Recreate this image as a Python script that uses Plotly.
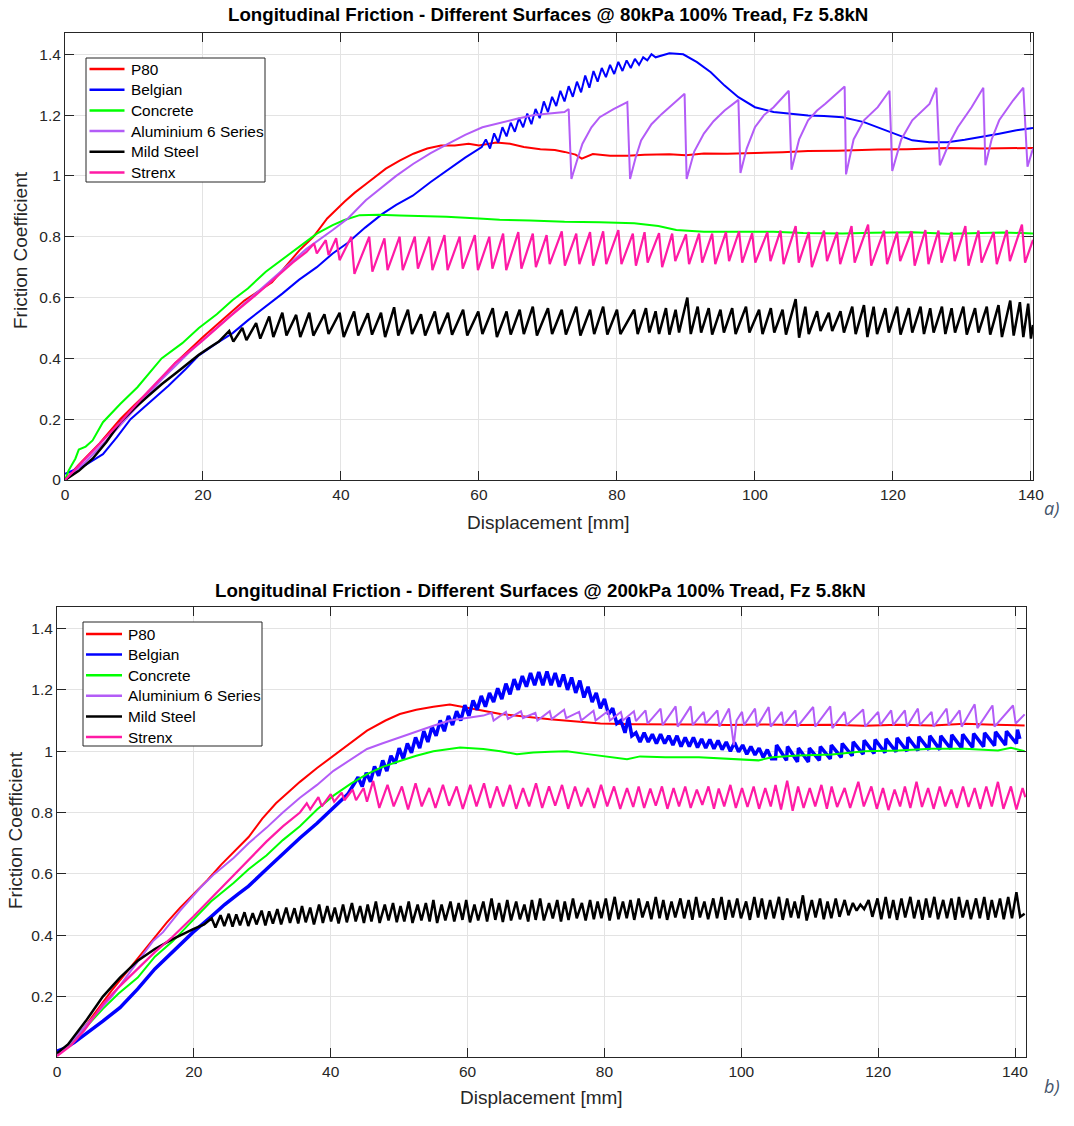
import plotly.graph_objects as go

# ---------------------------------------------------------------
# a) 80 kPa
# ---------------------------------------------------------------
a_p80_x = [0, 2, 5, 8, 10, 13, 16, 20, 23, 26, 30, 34, 36, 38, 40.5, 42, 44, 46.5, 48.5, 50.5,
           52.5, 54.5, 56.5, 58.5, 60, 62.5, 64.5, 66.5, 68.9, 71, 72.4, 74, 74.9, 76.5, 79,
           81.5, 84, 87.6, 90, 92.6, 96, 100, 104, 107.7, 112, 117.8, 122, 127.9, 133, 140.3]
a_p80_y = [0, 0.05, 0.12, 0.2, 0.245, 0.31, 0.385, 0.47, 0.53, 0.59, 0.65, 0.756, 0.80, 0.86, 0.915,
           0.945, 0.98, 1.024, 1.05, 1.073, 1.09, 1.10, 1.10, 1.106, 1.10, 1.11, 1.106, 1.095, 1.088,
           1.085, 1.079, 1.07, 1.057, 1.072, 1.066, 1.066, 1.07, 1.071, 1.068, 1.074, 1.073, 1.075,
           1.078, 1.082, 1.083, 1.087, 1.088, 1.092, 1.09, 1.092]

a_belgian_x = [0, 1.5, 3, 5.5, 7.5, 9.5, 12, 15, 17.5, 19.4, 22, 24.3, 26.5, 29.1, 31.5, 33.9, 36.5,
               38.8, 41, 43.5, 46, 48, 50.4, 53, 55.5, 58, 60.4,
               61.0, 61.6, 62.2, 62.8, 63.4, 64.0, 64.6, 65.2, 65.8, 66.4, 67.0, 67.6, 68.2, 68.8,
               69.4, 70.0, 70.6, 71.2, 71.8, 72.4, 73.0, 73.6, 74.2, 74.8, 75.4, 76.0, 76.6, 77.2,
               77.8, 78.4, 79.0, 79.6, 80.2, 80.8, 81.4, 82.0, 82.6, 83.2, 83.8, 84.4, 85.0, 85.6,
               87.6, 89.6, 91.6, 93.6, 95.6, 97.6, 100, 102.7, 105, 107.7, 110, 112.7, 115.8, 117.8,
               120.3, 122.8, 125.3, 127.9, 130.4, 132.9, 135.4, 137.9, 140.3]
a_belgian_y = [0.02, 0.035, 0.05, 0.085, 0.14, 0.2, 0.25, 0.31, 0.365, 0.41, 0.45, 0.483, 0.525,
               0.57, 0.613, 0.658, 0.70, 0.745, 0.78, 0.83, 0.875, 0.905, 0.935, 0.98, 1.02, 1.06,
               1.095,
               1.12, 1.09, 1.14, 1.11, 1.16, 1.13, 1.175, 1.145, 1.19, 1.16, 1.205, 1.17, 1.22, 1.19,
               1.245, 1.21, 1.26, 1.23, 1.28, 1.245, 1.295, 1.26, 1.31, 1.275, 1.33, 1.29, 1.345,
               1.31, 1.355, 1.325, 1.365, 1.335, 1.375, 1.345, 1.38, 1.355, 1.385, 1.365, 1.39,
               1.38, 1.40, 1.39,
               1.403, 1.40, 1.374, 1.341, 1.297, 1.259, 1.226, 1.21, 1.205, 1.199, 1.197, 1.193,
               1.177, 1.16, 1.139, 1.117, 1.111, 1.111, 1.119, 1.128, 1.139, 1.15, 1.158]

a_concrete_x = [0, 0.5, 1, 1.5, 2, 3, 4, 5.5, 8, 10.5, 14, 17, 19.4, 22, 24.3, 26.5, 29.1, 31.5,
                33.9, 36.5, 38.8, 40.5, 42.7, 45.5, 48.5, 52, 55.3, 60, 63, 67.4, 72.4, 77.5, 82.5,
                86, 88.6, 92.6, 97, 102.7, 107, 112.7, 117, 122.8, 128, 132.9, 136, 140.3]
a_concrete_y = [0, 0.03, 0.05, 0.07, 0.1, 0.11, 0.13, 0.19, 0.25, 0.305, 0.4, 0.45, 0.5, 0.545,
                0.592, 0.63, 0.685, 0.725, 0.767, 0.81, 0.838, 0.855, 0.871, 0.872, 0.87, 0.868,
                0.866, 0.86, 0.856, 0.853, 0.849, 0.848, 0.844, 0.835, 0.822, 0.816, 0.815, 0.816,
                0.812, 0.811, 0.813, 0.815, 0.81, 0.811, 0.814, 0.811]

a_alu_x = [0, 3, 6, 10, 14, 18, 22, 26, 29, 32, 35, 38.8, 41, 43.6, 45.5, 48, 50.5, 53, 55.5, 58,
           60.5, 63, 65.5, 68, 70.4, 72.4, 73.0,
           73.4, 74.2, 75.0, 76.3, 77.5, 79.5, 81.5, 81.9, 82.7, 83.5, 85.0, 86.5, 88.0, 89.8,
           90.1, 91.2, 92.6, 94.0, 95.6, 97.6, 97.9, 98.8, 100.0, 101.3, 102.7, 104.9, 105.3,
           106.4, 107.7, 109.0, 110.2, 113.0, 113.2, 114.3, 115.8, 117.8, 119.5, 119.9, 121.2,
           122.8, 125.3, 126.3, 126.8, 128.0, 129.4, 131.4, 133.1, 133.4, 134.3, 135.4, 137.4,
           138.9, 139.5, 140.3]
a_alu_y = [0, 0.06, 0.13, 0.23, 0.33, 0.42, 0.5, 0.58, 0.64, 0.70, 0.76, 0.822, 0.86, 0.92, 0.955,
           1.0, 1.04, 1.075, 1.105, 1.135, 1.16, 1.175, 1.188, 1.2, 1.205, 1.21, 1.22,
           0.99, 1.05, 1.106, 1.16, 1.193, 1.22, 1.243, 0.99, 1.06, 1.117, 1.17, 1.204, 1.235,
           1.27, 0.99, 1.08, 1.139, 1.18, 1.215, 1.25, 1.01, 1.09, 1.16, 1.2, 1.226, 1.28, 1.02,
           1.12, 1.183, 1.215, 1.237, 1.294, 1.005, 1.12, 1.183, 1.226, 1.28, 1.016, 1.12, 1.183,
           1.237, 1.29, 1.035, 1.1, 1.16, 1.226, 1.29, 1.035, 1.12, 1.183, 1.248, 1.29, 1.03,
           1.09]

# mild steel: loading ramp, then stick-slip peaks / troughs
a_steel_ramp_x = [0, 2, 4, 6, 8, 10, 12, 14, 16, 18, 19.4, 20.9, 22.3]
a_steel_ramp_y = [0, 0.03, 0.07, 0.125, 0.19, 0.235, 0.275, 0.315, 0.35, 0.385, 0.412, 0.435, 0.455]
a_steel_peak_x = [23.8, 25.7, 27.7, 29.6, 31.5, 33.5, 35.4, 37.6, 39.8, 41.9,
                  43.9, 45.8, 47.7, 49.7, 51.6, 53.6, 55.5, 57.7, 59.9, 62.0,
                  64.0, 65.9, 67.8, 70.0, 72.0, 74.1, 76.1, 78.0, 80.0,
                  82.5, 84.2, 85.6, 87.1, 88.5, 90.2, 91.7, 93.3, 95.0, 96.7,
                  98.7, 100.6, 102.3, 104.0, 105.9, 107.3, 109.0, 110.7, 112.4, 114.1,
                  115.8, 117.2, 118.9, 120.6, 122.3, 124.0, 125.4, 127.1, 128.5, 130.2,
                  131.9, 133.6, 135.3, 137.0, 138.4, 139.6]
a_steel_peak_y = [0.49, 0.50, 0.516, 0.538, 0.55, 0.543, 0.55, 0.545, 0.55, 0.554,
                  0.548, 0.55, 0.568, 0.56, 0.545, 0.554, 0.55, 0.56, 0.554, 0.565,
                  0.554, 0.56, 0.57, 0.565, 0.56, 0.57, 0.56, 0.57, 0.56,
                  0.56, 0.565, 0.555, 0.565, 0.56, 0.60, 0.57, 0.565, 0.56, 0.565,
                  0.57, 0.56, 0.565, 0.56, 0.595, 0.57, 0.555, 0.55, 0.555, 0.57,
                  0.575, 0.57, 0.565, 0.57, 0.565, 0.57, 0.565, 0.57, 0.565, 0.57,
                  0.565, 0.57, 0.575, 0.59, 0.585, 0.58]
a_steel_trough_x = [24.4, 26.3, 28.3, 30.2, 32.1, 34.1, 36.0, 38.2, 40.4, 42.5,
                    44.5, 46.4, 48.3, 50.3, 52.2, 54.2, 56.1, 58.3, 60.5, 62.6,
                    64.6, 66.5, 68.4, 70.6, 72.6, 74.7, 76.7, 78.6, 80.5,
                    83.0, 84.7, 86.1, 87.6, 89.0, 90.7, 92.2, 93.8, 95.5, 97.2,
                    99.2, 101.1, 102.8, 104.5, 106.4, 107.8, 109.5, 111.2, 112.9, 114.6,
                    116.3, 117.7, 119.4, 121.1, 122.8, 124.5, 125.9, 127.6, 129.0, 130.7,
                    132.4, 134.1, 135.8, 137.5, 138.9, 140.0]
a_steel_trough_y = [0.455, 0.46, 0.465, 0.47, 0.475, 0.47, 0.475, 0.48, 0.47, 0.475,
                    0.478, 0.47, 0.475, 0.48, 0.475, 0.48, 0.478, 0.475, 0.48, 0.47,
                    0.478, 0.48, 0.475, 0.48, 0.478, 0.475, 0.48, 0.478, 0.48,
                    0.48, 0.485, 0.48, 0.478, 0.485, 0.48, 0.485, 0.478, 0.485, 0.48,
                    0.485, 0.48, 0.485, 0.478, 0.468, 0.48, 0.49, 0.49, 0.485, 0.48,
                    0.47, 0.48, 0.485, 0.478, 0.485, 0.48, 0.485, 0.48, 0.485, 0.478,
                    0.485, 0.478, 0.47, 0.475, 0.47, 0.465]
a_steel_end = (140.3, 0.51)

a_strenx_ramp_x = [0, 3, 8, 12, 16, 20, 24, 28, 31, 33, 35]
a_strenx_ramp_y = [0, 0.07, 0.19, 0.29, 0.385, 0.46, 0.54, 0.615, 0.675, 0.715, 0.75]
a_strenx_peak_x = [36.1, 37.8, 39.3,
                   41.5, 44.1, 46.3, 48.5, 50.7, 52.8, 55.0, 57.2, 59.4, 61.5,
                   63.5, 65.7, 67.8, 69.8, 72.0, 74.1, 76.1, 78.0, 80.2, 82.3,
                   84.0, 86.1, 88.0, 90.0, 91.9, 93.8, 95.8, 97.7, 99.6, 101.8,
                   103.7, 105.9, 107.8, 110.0, 111.9, 114.0, 116.4, 118.7, 120.6, 122.7,
                   124.7, 126.6, 128.5, 130.5, 132.4, 134.6, 136.5, 138.7]
a_strenx_peak_y = [0.778, 0.789, 0.795,
                   0.80, 0.80, 0.795, 0.80, 0.80, 0.80, 0.805, 0.80, 0.805, 0.80,
                   0.81, 0.815, 0.81, 0.805, 0.818, 0.81, 0.815, 0.818, 0.822, 0.81,
                   0.815, 0.812, 0.81, 0.808, 0.81, 0.81, 0.815, 0.818, 0.812, 0.815,
                   0.82, 0.835, 0.815, 0.82, 0.815, 0.835, 0.84, 0.82, 0.815, 0.818,
                   0.822, 0.82, 0.815, 0.835, 0.82, 0.815, 0.822, 0.84]
a_strenx_trough_x = [36.5, 38.2, 39.8,
                     41.95, 44.55, 46.75, 48.95, 51.15, 53.25, 55.45, 57.65, 59.85, 61.95,
                     63.95, 66.15, 68.25, 70.25, 72.45, 74.55, 76.55, 78.45, 80.65, 82.75,
                     84.45, 86.55, 88.45, 90.45, 92.35, 94.25, 96.25, 98.15, 100.05, 102.25,
                     104.15, 106.35, 108.25, 110.45, 112.35, 114.45, 116.85, 119.15, 121.05, 123.15,
                     125.15, 127.05, 128.95, 130.95, 132.85, 135.05, 136.95, 139.15]
a_strenx_trough_y = [0.745, 0.74, 0.723,
                     0.678, 0.685, 0.69, 0.69, 0.695, 0.69, 0.69, 0.695, 0.69, 0.695,
                     0.69, 0.695, 0.70, 0.71, 0.705, 0.71, 0.705, 0.71, 0.71, 0.705,
                     0.715, 0.70, 0.72, 0.71, 0.715, 0.71, 0.72, 0.715, 0.715, 0.72,
                     0.71, 0.715, 0.70, 0.72, 0.71, 0.715, 0.705, 0.71, 0.72, 0.705,
                     0.71, 0.715, 0.72, 0.705, 0.715, 0.71, 0.72, 0.715]
a_strenx_end = (140.3, 0.79)

# ---------------------------------------------------------------
# b) 200 kPa
# ---------------------------------------------------------------
b_p80_x = [0, 2, 4, 6, 8, 10, 12, 14, 16, 18, 20, 22, 24, 26, 28, 30, 32, 34, 35.5, 38, 40.4, 43,
           45.3, 48, 50.1, 52.5, 55, 57.4, 59.9, 62.3, 64.8, 67, 69.6, 72, 74.5, 77, 79.4, 84.2,
           89, 93.8, 98, 103.5, 108, 113.2, 118, 122.9, 128, 132.6, 137, 141.4]
b_p80_y = [0.01, 0.05, 0.1, 0.16, 0.22, 0.275, 0.33, 0.385, 0.44, 0.49, 0.535, 0.58, 0.63, 0.675,
           0.72, 0.78, 0.83, 0.87, 0.9, 0.945, 0.985, 1.03, 1.067, 1.1, 1.121, 1.135, 1.145,
           1.152, 1.143, 1.132, 1.121, 1.115, 1.11, 1.104, 1.099, 1.094, 1.09, 1.088, 1.088,
           1.087, 1.085, 1.087, 1.085, 1.086, 1.083, 1.086, 1.084, 1.089, 1.086, 1.084]

b_belgian_x = [0, 1, 2.5, 4.2, 6.7, 9.2, 11.8, 14.3, 16.9, 19.9, 22.5, 24.5, 26.5, 28, 30.6, 33,
               35.5, 38, 40.4, 42.5,
               44.0, 44.6, 45.2, 45.8, 46.4, 47.0, 47.6, 48.2, 48.8, 49.4, 50.0, 50.6, 51.2, 51.8,
               52.4, 53.0, 53.6, 54.2, 54.8, 55.4, 56.0, 56.6, 57.2, 57.8, 58.4, 59.0, 59.6, 60.2,
               60.8, 61.4, 62.0, 62.6, 63.2, 63.8, 64.4, 65.0, 65.6, 66.2, 66.8, 67.4, 68.0, 68.6,
               69.2, 69.8, 70.4, 71.0, 71.6, 72.2, 72.8, 73.4, 74.0, 74.6, 75.2, 75.8, 76.4, 77.0,
               77.6, 78.2, 78.8, 79.4, 80.0, 80.6, 81.2, 81.8, 82.4, 83.0, 83.5, 84.0,
               84.6, 85.2, 85.8, 86.4, 87.0, 87.6, 88.2, 88.8, 89.4, 90.0, 90.6, 91.2, 91.8, 92.4,
               93.0, 93.6, 94.2, 94.8, 95.4, 96.0, 96.6, 97.2, 97.8, 98.4, 99.0, 99.6, 100.2,
               100.8, 101.4, 102.0, 102.6, 103.2, 103.8, 104.4,
               105.0, 105.15, 106.6, 106.75, 108.2, 108.35, 109.8, 109.95, 111.4, 111.55, 113.0,
               113.15, 114.6, 114.75, 116.2, 116.35, 117.8, 117.95, 119.4, 119.55, 121.0, 121.15,
               122.6, 122.75, 124.2, 124.35, 125.8, 125.95, 127.4, 127.55, 129.0, 129.15, 130.6,
               130.75, 132.2, 132.35, 133.8, 133.95, 135.4, 135.55, 137.0, 137.15, 138.6, 138.75,
               140.2, 140.35, 140.7]
b_belgian_y = [0.022, 0.03, 0.05, 0.077, 0.12, 0.164, 0.225, 0.29, 0.344, 0.41, 0.46, 0.5, 0.535,
               0.56, 0.615, 0.665, 0.717, 0.765, 0.816, 0.86,
               0.915, 0.885, 0.93, 0.9, 0.95, 0.92, 0.97, 0.935, 0.985, 0.96, 1.01, 0.975, 1.025,
               0.995, 1.045, 1.01, 1.065, 1.03, 1.08, 1.05, 1.1, 1.065, 1.115, 1.085, 1.13, 1.1,
               1.15, 1.115, 1.165, 1.135, 1.18, 1.145, 1.19, 1.16, 1.205, 1.17, 1.22, 1.185, 1.235,
               1.2, 1.245, 1.21, 1.255, 1.215, 1.258, 1.215, 1.26, 1.215, 1.255, 1.21, 1.25, 1.2,
               1.24, 1.19, 1.23, 1.175, 1.21, 1.16, 1.19, 1.14, 1.17, 1.12, 1.14, 1.09, 1.1, 1.06,
               1.11, 1.05,
               1.06, 1.03, 1.06, 1.03, 1.055, 1.025, 1.055, 1.025, 1.05, 1.02, 1.05, 1.015, 1.045,
               1.015, 1.045, 1.012, 1.04, 1.01, 1.038, 1.008, 1.035, 1.005, 1.03, 1.0, 1.028,
               0.998, 1.02, 0.99, 1.015, 0.988, 1.01, 0.98, 1.005, 0.975,
               0.975, 1.02, 0.97, 1.015, 0.965, 1.01, 0.965, 1.01, 0.97, 1.015, 0.975, 1.02, 0.98,
               1.025, 0.985, 1.03, 0.99, 1.035, 0.993, 1.038, 0.995, 1.04, 0.998, 1.043, 1.0,
               1.045, 1.002, 1.047, 1.005, 1.05, 1.005, 1.05, 1.008, 1.053, 1.01, 1.055, 1.012,
               1.057, 1.015, 1.06, 1.018, 1.063, 1.02, 1.065, 1.025, 1.07, 1.04]

b_concrete_x = [0, 2, 4, 6.7, 9, 11.8, 14.3, 16.9, 19.9, 22.5, 25.8, 28, 30.6, 33, 35.5, 38, 40.4,
                43, 45.3, 47.5, 50.1, 52.5, 55, 58.9, 62.3, 64.8, 67.2, 69.6, 72.1, 74.5, 77, 79.4,
                81.5, 83.3, 85.2, 88.9, 93.8, 98.6, 102.5, 104.5, 108.3, 113.2, 118, 122.9, 127.7,
                132.6, 137.5, 139.4, 141.4]
b_concrete_y = [0.01, 0.045, 0.095, 0.16, 0.21, 0.262, 0.33, 0.38, 0.45, 0.51, 0.57, 0.615, 0.66,
                0.71, 0.755, 0.81, 0.855, 0.895, 0.925, 0.948, 0.968, 0.985, 1.0, 1.012, 1.007, 1.0,
                0.99, 0.996, 0.998, 1.0, 0.992, 0.985, 0.978, 0.974, 0.983, 0.98, 0.98, 0.975, 0.97,
                0.98, 0.986, 0.989, 1.0, 1.002, 1.008, 1.008, 1.002, 1.011, 1.0]

b_alu_x = [0, 2, 4, 6, 8, 10, 12, 14, 15.5, 18, 20.9, 23, 25.8, 28, 30.6, 33, 35.5, 38, 40.4, 43,
           45.3, 47.5, 50.1, 52.5, 55, 57.4, 60, 62.3,
           63.5, 63.8, 65.6, 65.9, 67.8, 68.1, 69.9, 70.2, 72.0, 72.3, 74.1, 74.4, 76.3, 76.6,
           78.4, 78.7, 80.5, 80.8, 82.4, 82.7, 84.3, 84.6, 86.0, 86.3, 88.2, 88.5, 90.4, 90.7,
           92.6, 92.9, 94.5, 94.8, 96.5, 96.8, 98.2, 98.9, 99.3, 100.1, 100.4, 102.0, 102.3,
           104.0, 104.3, 105.9, 106.2, 107.9, 108.2, 110.5, 110.8, 113.0, 113.3, 115.1, 115.4,
           117.8, 118.1, 120.0, 120.3, 121.9, 122.2, 123.9, 124.2, 125.8, 126.1, 127.8, 128.1,
           130.0, 130.3, 131.9, 132.2, 134.1, 134.5, 136.7, 137.0, 139.7, 140.1, 141.4]
b_alu_y = [0.01, 0.05, 0.1, 0.15, 0.2, 0.26, 0.32, 0.38, 0.41, 0.48, 0.554, 0.6, 0.652, 0.7, 0.75,
           0.8, 0.848, 0.89, 0.936, 0.975, 1.007, 1.025, 1.045, 1.065, 1.083, 1.10, 1.108, 1.116,
           1.125, 1.10, 1.128, 1.105, 1.13, 1.108, 1.125, 1.10, 1.13, 1.105, 1.135, 1.108, 1.128,
           1.10, 1.132, 1.10, 1.13, 1.10, 1.128, 1.10, 1.13, 1.098, 1.133, 1.09, 1.139, 1.085,
           1.146, 1.08, 1.146, 1.085, 1.128, 1.09, 1.133, 1.08, 1.139, 1.02, 1.10, 1.128, 1.085,
           1.139, 1.08, 1.144, 1.08, 1.128, 1.085, 1.133, 1.08, 1.144, 1.08, 1.146, 1.075, 1.128,
           1.085, 1.136, 1.08, 1.128, 1.085, 1.133, 1.085, 1.133, 1.08, 1.139, 1.085, 1.128,
           1.08, 1.139, 1.085, 1.133, 1.08, 1.153, 1.075, 1.149, 1.08, 1.149, 1.09, 1.12]

b_steel_ramp_x = [0, 1.6, 4.2, 6.7, 9.2, 11.8, 14.3, 16.9, 19.9, 21.5]
b_steel_ramp_y = [0.015, 0.044, 0.12, 0.2, 0.262, 0.317, 0.355, 0.387, 0.42, 0.435]
b_steel_peak_x = [22.6, 23.9, 25.1, 26.2, 27.4, 28.6, 29.9, 31.0, 32.2, 33.5,
                  34.7, 35.8, 37.0, 38.3, 39.5, 40.6, 41.8, 43.1, 44.3, 45.4,
                  46.6, 47.9, 49.1, 50.2, 51.4, 52.7, 53.9, 55.0, 56.2, 57.5,
                  58.7, 59.8, 61.0, 62.3, 63.5, 64.6, 65.8, 67.1, 68.3, 69.4,
                  70.6, 71.9, 73.1, 74.2, 75.4, 76.7, 77.9, 79.0, 80.2, 81.5,
                  82.7, 83.8, 85.0, 86.3, 87.5, 88.6, 89.8, 91.1, 92.3, 93.4,
                  94.6, 95.9, 97.1, 98.2, 99.4, 100.7, 101.9, 103.0, 104.2, 105.5,
                  106.7, 107.8, 109.0, 110.3, 111.5, 112.6, 113.8, 115.1, 116.3, 117.4,
                  118.6, 119.9, 121.1, 122.2, 123.4, 124.7, 125.9, 127.0, 128.2, 129.5,
                  130.7, 131.8, 133.0, 134.3, 135.5, 136.6, 137.8, 139.0, 140.2]
b_steel_peak_y = [0.455, 0.465, 0.47, 0.468, 0.475, 0.472, 0.48, 0.478, 0.485, 0.49,
                  0.488, 0.495, 0.49, 0.50, 0.495, 0.49, 0.50, 0.505, 0.495, 0.50,
                  0.51, 0.50, 0.505, 0.495, 0.51, 0.50, 0.505, 0.515, 0.50, 0.51,
                  0.505, 0.515, 0.50, 0.51, 0.52, 0.505, 0.515, 0.51, 0.50, 0.515,
                  0.52, 0.505, 0.515, 0.51, 0.52, 0.505, 0.515, 0.51, 0.52, 0.525,
                  0.51, 0.515, 0.52, 0.51, 0.525, 0.515, 0.51, 0.52, 0.515, 0.525,
                  0.51, 0.52, 0.525, 0.515, 0.52, 0.51, 0.525, 0.52, 0.515, 0.525,
                  0.52, 0.51, 0.53, 0.515, 0.52, 0.51, 0.52, 0.515, 0.505, 0.50,
                  0.515, 0.52, 0.525, 0.515, 0.52, 0.525, 0.515, 0.52, 0.525, 0.515,
                  0.52, 0.525, 0.515, 0.52, 0.525, 0.515, 0.52, 0.525, 0.54]
b_steel_trough_x = [23.15, 24.45, 25.65, 26.75, 27.95, 29.15, 30.45, 31.55, 32.75, 34.05,
                    35.25, 36.35, 37.55, 38.85, 40.05, 41.15, 42.35, 43.65, 44.85, 45.95,
                    47.15, 48.45, 49.65, 50.75, 51.95, 53.25, 54.45, 55.55, 56.75, 58.05,
                    59.25, 60.35, 61.55, 62.85, 64.05, 65.15, 66.35, 67.65, 68.85, 69.95,
                    71.15, 72.45, 73.65, 74.75, 75.95, 77.25, 78.45, 79.55, 80.75, 82.05,
                    83.25, 84.35, 85.55, 86.85, 88.05, 89.15, 90.35, 91.65, 92.85, 93.95,
                    95.15, 96.45, 97.65, 98.75, 99.95, 101.25, 102.45, 103.55, 104.75, 106.05,
                    107.25, 108.35, 109.55, 110.85, 112.05, 113.15, 114.35, 115.65, 116.85, 117.95,
                    119.15, 120.45, 121.65, 122.75, 123.95, 125.25, 126.45, 127.55, 128.75, 130.05,
                    131.25, 132.35, 133.55, 134.85, 136.05, 137.15, 138.35, 139.55, 140.75]
b_steel_trough_y = [0.425, 0.43, 0.428, 0.432, 0.43, 0.435, 0.432, 0.438, 0.435, 0.44,
                    0.438, 0.442, 0.435, 0.44, 0.445, 0.438, 0.442, 0.445, 0.44, 0.445,
                    0.44, 0.448, 0.442, 0.445, 0.44, 0.448, 0.445, 0.44, 0.448, 0.445,
                    0.45, 0.442, 0.448, 0.445, 0.45, 0.443, 0.448, 0.452, 0.445, 0.45,
                    0.448, 0.455, 0.445, 0.45, 0.455, 0.448, 0.452, 0.455, 0.448, 0.452,
                    0.455, 0.45, 0.458, 0.452, 0.455, 0.45, 0.458, 0.455, 0.45, 0.458,
                    0.452, 0.455, 0.45, 0.458, 0.455, 0.45, 0.458, 0.452, 0.455, 0.45,
                    0.458, 0.455, 0.448, 0.458, 0.452, 0.455, 0.46, 0.465, 0.48, 0.485,
                    0.46, 0.452, 0.455, 0.45, 0.458, 0.455, 0.45, 0.458, 0.452, 0.455,
                    0.45, 0.458, 0.452, 0.455, 0.45, 0.458, 0.452, 0.455, 0.46]
b_steel_end = (141.4, 0.47)

b_strenx_ramp_x = [0, 2, 4, 6.7, 9, 11.8, 14.3, 16.9, 19.9, 22.5, 24.5, 26, 28, 30.6, 33, 35.5]
b_strenx_ramp_y = [0.006, 0.04, 0.09, 0.175, 0.23, 0.29, 0.345, 0.395, 0.46, 0.52, 0.565, 0.6,
                   0.645, 0.705, 0.755, 0.80]
b_strenx_peak_x = [36.5, 38.2, 40.0, 41.6, 43.2, 44.8,
                   46.2, 48.3, 50.4, 52.4, 54.4, 56.4, 58.4, 60.4, 62.4, 64.3,
                   66.2, 68.1, 70.0, 71.9, 73.8, 75.7, 77.6, 79.5, 81.4, 83.3,
                   85.0, 86.7, 88.4, 90.1, 91.8, 93.5, 95.2, 96.7, 98.4, 100.1,
                   101.8, 103.5, 105.0, 106.7, 108.3, 110.0, 111.7, 113.2, 115.1, 117.1,
                   119.0, 120.7, 122.4, 123.9, 125.6, 127.3, 129.0, 130.7, 132.4, 134.1,
                   135.8, 137.5, 139.4, 141.1]
b_strenx_peak_y = [0.83, 0.85, 0.86, 0.865, 0.875, 0.88,
                   0.903, 0.89, 0.885, 0.895, 0.88, 0.89, 0.885, 0.89, 0.895, 0.885,
                   0.89, 0.88, 0.895, 0.885, 0.89, 0.885, 0.88, 0.89, 0.885, 0.88,
                   0.885, 0.878, 0.885, 0.88, 0.885, 0.875, 0.885, 0.878, 0.89, 0.88,
                   0.885, 0.88, 0.89, 0.904, 0.885, 0.88, 0.89, 0.885, 0.88, 0.9,
                   0.885, 0.88, 0.875, 0.885, 0.9, 0.88, 0.885, 0.875, 0.885, 0.88,
                   0.885, 0.9, 0.885, 0.88]
b_strenx_trough_x = [37.0, 38.7, 40.5, 42.0, 43.7, 45.3,
                     47.1, 49.2, 51.3, 53.3, 55.3, 57.3, 59.3, 61.3, 63.3, 65.2,
                     67.1, 69.0, 70.9, 72.8, 74.7, 76.6, 78.5, 80.4, 82.3, 84.2,
                     85.8, 87.5, 89.2, 90.9, 92.6, 94.3, 96.0, 97.5, 99.2, 100.9,
                     102.6, 104.3, 105.8, 107.5, 109.1, 110.8, 112.5, 114.0, 115.9, 117.9,
                     119.8, 121.5, 123.2, 124.7, 126.4, 128.1, 129.8, 131.5, 133.2, 134.9,
                     136.6, 138.3, 140.2, 141.5]
b_strenx_trough_y = [0.81, 0.82, 0.835, 0.84, 0.84, 0.835,
                     0.815, 0.82, 0.81, 0.82, 0.815, 0.822, 0.812, 0.82, 0.815, 0.82,
                     0.812, 0.82, 0.815, 0.822, 0.812, 0.82, 0.815, 0.82, 0.812, 0.818,
                     0.815, 0.822, 0.812, 0.82, 0.815, 0.825, 0.812, 0.82, 0.815, 0.818,
                     0.812, 0.82, 0.81, 0.806, 0.815, 0.82, 0.812, 0.818, 0.815, 0.82,
                     0.812, 0.808, 0.82, 0.815, 0.818, 0.812, 0.82, 0.815, 0.818, 0.812,
                     0.82, 0.812, 0.81, 0.85]

surfaces = ["P80", "Belgian", "Concrete", "Aluminium 6 Series", "Mild Steel", "Strenx"]
colors = ["#FF0000", "#0000FF", "#00FF00", "#B35CF7", "#000000", "#FF1AA5"]
widths = [2, 2, 2, 2, 2.5, 2.2]

a_title = "Longitudinal Friction - Different Surfaces @ 80kPa 100% Tread, Fz 5.8kN"
b_title = "Longitudinal Friction - Different Surfaces @ 200kPa 100% Tread, Fz 5.8kN"
x_label = "Displacement [mm]"
y_label = "Friction Coefficient"


def stick_slip(ramp_x, ramp_y, peak_x, peak_y, trough_x, trough_y, end=None):
    # ramp first, then alternate peak / trough
    xs, ys = list(ramp_x), list(ramp_y)
    for px, py, tx, ty in zip(peak_x, peak_y, trough_x, trough_y):
        xs += [px, tx]
        ys += [py, ty]
    if end:
        xs.append(end[0])
        ys.append(end[1])
    return xs, ys


a_steel_x, a_steel_y = stick_slip(a_steel_ramp_x, a_steel_ramp_y, a_steel_peak_x, a_steel_peak_y,
                                  a_steel_trough_x, a_steel_trough_y, a_steel_end)
a_strenx_x, a_strenx_y = stick_slip(a_strenx_ramp_x, a_strenx_ramp_y, a_strenx_peak_x,
                                    a_strenx_peak_y, a_strenx_trough_x, a_strenx_trough_y,
                                    a_strenx_end)
b_steel_x, b_steel_y = stick_slip(b_steel_ramp_x, b_steel_ramp_y, b_steel_peak_x, b_steel_peak_y,
                                  b_steel_trough_x, b_steel_trough_y, b_steel_end)
b_strenx_x, b_strenx_y = stick_slip(b_strenx_ramp_x, b_strenx_ramp_y, b_strenx_peak_x,
                                    b_strenx_peak_y, b_strenx_trough_x, b_strenx_trough_y)

panel_a = [(a_p80_x, a_p80_y), (a_belgian_x, a_belgian_y), (a_concrete_x, a_concrete_y),
           (a_alu_x, a_alu_y), (a_steel_x, a_steel_y), (a_strenx_x, a_strenx_y)]
panel_b = [(b_p80_x, b_p80_y), (b_belgian_x, b_belgian_y), (b_concrete_x, b_concrete_y),
           (b_alu_x, b_alu_y), (b_steel_x, b_steel_y), (b_strenx_x, b_strenx_y)]

fig = go.Figure()

for i, (x, y) in enumerate(panel_a):
    fig.add_trace(go.Scatter(
        x=x, y=y, mode="lines", name=surfaces[i], showlegend=False,
        line=dict(color=colors[i], width=widths[i]),
        xaxis="x", yaxis="y",
    ))

for i, (x, y) in enumerate(panel_b):
    w = 3.5 if surfaces[i] == "Belgian" else widths[i]
    fig.add_trace(go.Scatter(
        x=x, y=y, mode="lines", name=surfaces[i], showlegend=False,
        line=dict(color=colors[i], width=w),
        xaxis="x2", yaxis="y2",
    ))

# full-window figure; the page body margin is zeroed in write_html below
W, H = 1074, 1126


def px_x(p):
    return p / W


def px_y(p):
    return 1 - p / H


axis_style = dict(
    showline=True, linecolor="#262626", linewidth=1, mirror="ticks",
    ticks="inside", ticklen=9, tickcolor="#262626", automargin=False,
    showgrid=True, gridcolor="#E3E3E3", gridwidth=1, zeroline=False,
    tickfont=dict(size=15.5, color="#262626"),
)
x_ticks = [0, 20, 40, 60, 80, 100, 120, 140]
a_y_ticks = [0, 0.2, 0.4, 0.6, 0.8, 1.0, 1.2, 1.4]
a_y_text = ["0", "0.2", "0.4", "0.6", "0.8", "1", "1.2", "1.4"]
b_y_ticks = [0.2, 0.4, 0.6, 0.8, 1.0, 1.2, 1.4]
b_y_text = ["0.2", "0.4", "0.6", "0.8", "1", "1.2", "1.4"]

fig.update_layout(
    width=W, height=H, margin=dict(l=0, r=0, t=0, b=0, autoexpand=False),
    paper_bgcolor="white", plot_bgcolor="white", showlegend=False,
    font=dict(family="Liberation Sans, Arial, sans-serif", size=14, color="#262626"),
    xaxis=dict(domain=[px_x(65), px_x(1033)], range=[0, 140.3], anchor="y",
               tickvals=x_ticks, **axis_style),
    yaxis=dict(domain=[px_y(480), px_y(33)], range=[0, 1.47], anchor="x",
               tickvals=a_y_ticks, ticktext=a_y_text, **axis_style),
    xaxis2=dict(domain=[px_x(57), px_x(1026)], range=[0, 141.6], anchor="y2",
                tickvals=x_ticks, **axis_style),
    yaxis2=dict(domain=[px_y(1057), px_y(607)], range=[0.003, 1.47], anchor="x2",
                tickvals=b_y_ticks, ticktext=b_y_text, **axis_style),
)

# boxed legends in the upper-left corner of each panel (MATLAB style)
legend_boxes = [
    # box left, top, right, bottom, sample x0, x1, text x, first row y, row step
    (86, 58, 265, 182, 89.5, 124.5, 129, 69, 20.7),
    (83, 622, 262, 746, 86, 122, 126, 634, 20.6),
]
for bx0, by0, bx1, by1, lx0, lx1, tx, ry, step in legend_boxes:
    fig.add_shape(type="rect", xref="paper", yref="paper",
                  x0=px_x(bx0), x1=px_x(bx1), y0=px_y(by0), y1=px_y(by1),
                  line=dict(color="#262626", width=1), fillcolor="white", layer="above")
    for k, name in enumerate(surfaces):
        yy = px_y(ry + k * step)
        fig.add_shape(type="line", xref="paper", yref="paper",
                      x0=px_x(lx0), x1=px_x(lx1), y0=yy, y1=yy,
                      line=dict(color=colors[k], width=2.5), layer="above")
        fig.add_annotation(x=px_x(tx), y=yy, xref="paper", yref="paper", text=name,
                           showarrow=False, xanchor="left", yanchor="middle",
                           font=dict(size=15.4, color="#000000"))

# titles and axis labels
notes = [
    (548, 15, "<b>" + a_title + "</b>", 18.7, "#000000", 0),
    (540, 591, "<b>" + b_title + "</b>", 18.7, "#000000", 0),
    (548, 522, x_label, 19, "#262626", 0),
    (541, 1097, x_label, 19, "#262626", 0),
    (20, 250, y_label, 19, "#262626", -90),
    (15, 830, y_label, 19, "#262626", -90),
]
for px, py, text, size, col, ang in notes:
    fig.add_annotation(x=px_x(px), y=px_y(py), xref="paper", yref="paper", text=text,
                       showarrow=False, textangle=ang, xanchor="center", yanchor="middle",
                       borderpad=0, font=dict(size=size, color=col))

for px, py, text in [(1061, 508, "a)"), (1062, 1100, "b)")]:
    fig.add_annotation(x=px_x(px), y=px_y(py), xref="paper", yref="paper",
                       text="<i>" + text + "</i>", showarrow=False,
                       font=dict(family="Open Sans, Noto Sans, sans-serif", size=18,
                                 color="#44546A"))

fig.write_html("out.html", config={"displayModeBar": False},
               post_script="document.body.style.margin = '0px';")
